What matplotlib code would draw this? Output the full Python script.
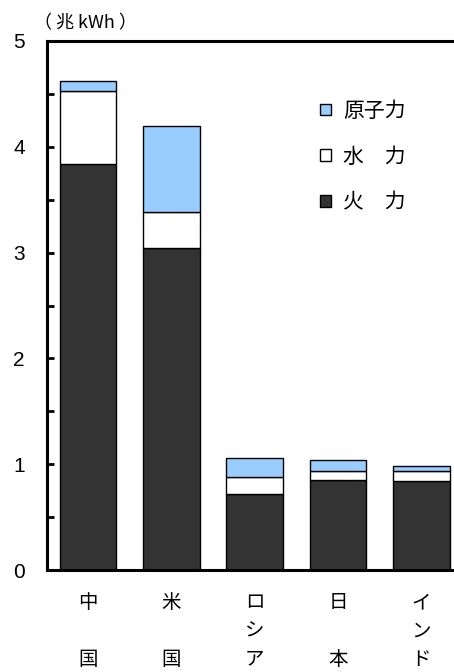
import matplotlib
matplotlib.use("Agg")
import matplotlib.pyplot as plt
from matplotlib.patches import Patch

plt.rcParams['font.family'] = ['Liberation Sans', 'Noto Sans CJK JP', 'DejaVu Sans']

countries = ["中\n\n国", "米\n\n国", "ロ\nシ\nア", "日\n\n本", "イ\nン\nド"]
thermal = [3.84, 3.04, 0.72, 0.85, 0.84]
hydro = [0.69, 0.34, 0.16, 0.09, 0.10]
nuclear = [0.09, 0.82, 0.18, 0.10, 0.04]
y_ticks = [0, 1, 2, 3, 4, 5]

fig = plt.figure(figsize=(4.54, 6.72), dpi=100)
ax = fig.add_axes([47 / 454, 102 / 672, 1 - 47 / 454, 529 / 672])

x = list(range(len(countries)))
w = 0.68
bottom2 = [a + b for a, b in zip(thermal, hydro)]
ax.bar(x, thermal, w, color="#333333", edgecolor="black", linewidth=1, label="火　力")
ax.bar(x, hydro, w, bottom=thermal, color="white", edgecolor="black", linewidth=1, label="水　力")
ax.bar(x, nuclear, w, bottom=bottom2, color="#99ccff", edgecolor="black", linewidth=1, label="原子力")

ax.set_xlim(-0.49, 4.39)
ax.set_ylim(0, 5)
ax.spines["right"].set_visible(False)
for s in ["left", "top", "bottom"]:
    ax.spines[s].set_linewidth(2.2)

ax.set_yticks(y_ticks)
ax.set_yticks([0.5, 1.5, 2.5, 3.5, 4.5], minor=True)
ax.tick_params(axis="y", which="both", direction="in", length=5, width=2, labelsize=15, pad=16)
ax.set_xticks(x)
ax.set_xticklabels(countries, fontsize=14, linespacing=1.45, family=['Noto Sans CJK JP'])
ax.tick_params(axis="x", length=0, pad=16)

fig.text(34 / 454, 1 - 23 / 672, "（ 兆 kWh ）", fontsize=13, va="center", ha="left",
         family=['Noto Sans CJK JP'])

handles = [Patch(facecolor="#99ccff", edgecolor="black"),
           Patch(facecolor="white", edgecolor="black"),
           Patch(facecolor="#333333", edgecolor="black")]
ax.legend(handles, ["原子力", "水　力", "火　力"], loc="upper left",
          bbox_to_anchor=(0.625, 0.924), frameon=False, handlelength=0.5, handleheight=0.5,
          handletextpad=0.6, labelspacing=1.14, prop={'family': 'Noto Sans CJK JP', 'size': 15})

fig.savefig("out.png", dpi=100)
